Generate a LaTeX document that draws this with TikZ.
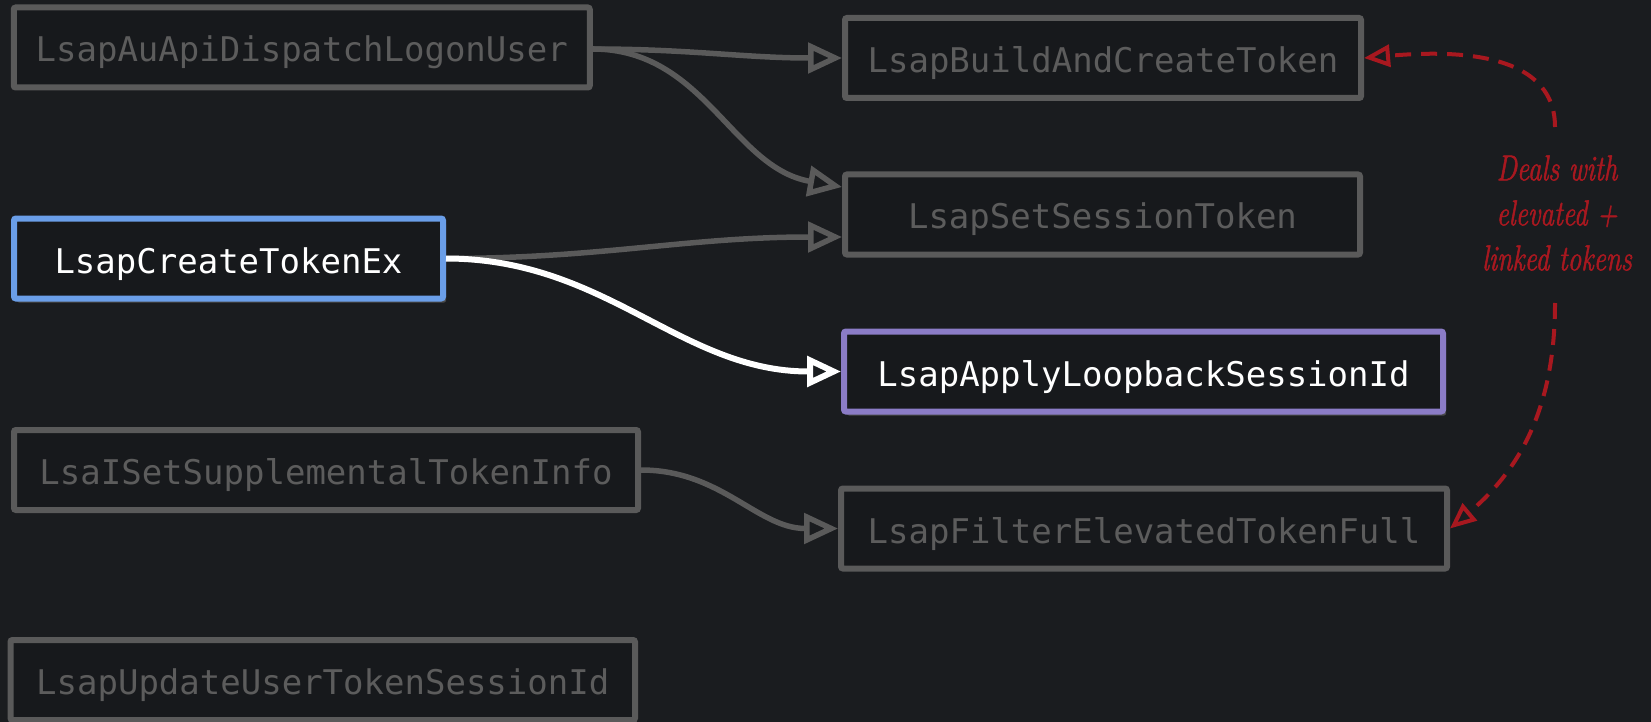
\documentclass[tikz,border=0pt]{standalone}
\usepackage{fontspec}
\newfontfamily\boxmono{DejaVu Sans Mono}
\newfontfamily\notehand{Latin Modern Roman}[FakeStretch=0.76, FakeBold=1.4]
\usetikzlibrary{arrows.meta,shadows}
\definecolor{canvas}{HTML}{1A1C1F}
\definecolor{boxfill}{HTML}{17191C}
\definecolor{dimline}{HTML}{5A5A5A}
\definecolor{dimtext}{HTML}{5C5C5C}
\definecolor{callerblue}{HTML}{6A9EE8}
\definecolor{calleepurple}{HTML}{8B7CC6}
\definecolor{notered}{HTML}{A8181F}
\begin{document}
\begin{tikzpicture}[x=1pt,y=-1pt,
  fn/.style={draw=dimline, line width=6pt, fill=boxfill, rounded corners=2pt,
    minimum height=80pt, inner sep=0pt, text=dimtext,
    font=\boxmono\fontsize{34}{40}\selectfont, text height=29pt, text depth=0pt},
  hot/.style={text=white, drop shadow={opacity=0.45, shadow xshift=3pt, shadow yshift=-4pt}},
  link/.style={draw=dimline, line width=5.5pt, -{Triangle[open, length=34pt, width=30pt]}},
  hotlink/.style={draw=white, line width=6pt, -{Triangle[open, length=34pt, width=30pt]}},
  notelink/.style={draw=notered, line width=4pt, dash pattern=on 16pt off 10pt,
    -{Triangle[open, length=26pt, width=22pt]}},
]
% canvas
\fill[canvas] (0,0) rectangle (1651,722);
\useasboundingbox (0,0) rectangle (1651,722);

% functions
\node[fn, minimum width=576pt] (dispatch) at (301.75,47.5) {LsapAuApiDispatchLogonUser};
\node[fn, minimum width=516pt] (build) at (1103,58) {LsapBuildAndCreateToken};
\node[fn, minimum width=515pt] (setsess) at (1102.5,214.5) {LsapSetSessionToken};
\node[fn, hot, draw=callerblue, minimum width=429pt] (create) at (228.5,258.5) {LsapCreateTokenEx};
\node[fn, hot, draw=calleepurple, minimum width=599pt] (loopback) at (1143.5,371.5) {LsapApplyLoopbackSessionId};
\node[fn, minimum width=624pt] (suppl) at (326,470) {LsaISetSupplementalTokenInfo};
\node[fn, minimum width=606pt] (filter) at (1144,528.5) {LsapFilterElevatedTokenFull};
\node[fn, minimum width=624.5pt] (update) at (322.75,680) {LsapUpdateUserTokenSessionId};

% calls
\draw[link] ([yshift=-1.5pt]dispatch.east) to[out=0,in=180] (build.west);
\draw[link] ([yshift=-1.5pt]dispatch.east) to[out=0,in=170] ([yshift=27.5pt]setsess.west);
\draw[link] (create.east) to[out=0,in=180] ([yshift=-22.5pt]setsess.west);
\draw[hotlink] (create.east) to[out=0,in=180] (loopback.west);
\draw[link] (suppl.east) to[out=0,in=180] (filter.west);

% annotation
\node[text=notered, align=center, font=\notehand\itshape\fontsize{36}{45}\selectfont] (note) at (1557,213)
  {Deals with\\elevated +\\linked tokens};
\coordinate (noteTop) at (1555,127);
\coordinate (noteBot) at (1555,303);
\draw[notelink] (noteTop) to[out=90,in=5] (build.east);
\draw[notelink] (noteBot) to[out=-90,in=40] (filter.east);
\end{tikzpicture}
\end{document}
